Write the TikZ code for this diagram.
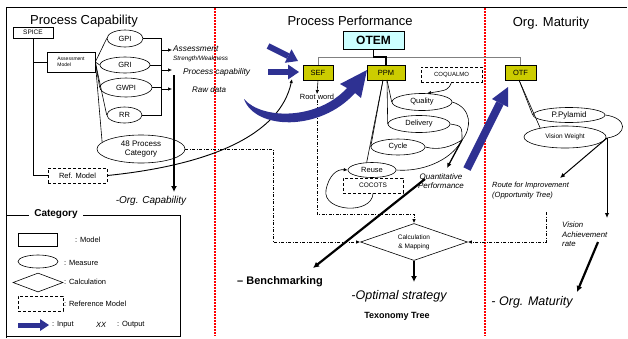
\documentclass[tikz,border=0pt]{standalone}
\usepackage{fontspec}
\setmainfont{Liberation Sans}
\usetikzlibrary{shapes.geometric,arrows.meta}
\definecolor{navyb}{RGB}{46,49,146}
\definecolor{oliveb}{RGB}{204,204,0}
\definecolor{lcyan}{RGB}{204,255,255}
\newcommand\fsz[2]{\fontsize{#1}{#2}\selectfont}
\begin{document}
\begin{tikzpicture}[x=1pt,y=-1pt,
  box/.style={draw, rectangle, inner sep=0pt, line width=0.6pt},
  ell/.style={draw, ellipse, inner sep=0pt, line width=0.6pt},
  ybox/.style={draw, fill=oliveb, inner sep=0pt, minimum height=15pt, line width=0.8pt, font=\fsz{7.5}{8}},
  dbox/.style={draw, rectangle, inner sep=0pt, line width=1pt, dash pattern=on 3pt off 2pt},
  ln/.style={line width=0.6pt},
  dd/.style={line width=0.9pt, dash pattern=on 3pt off 1.5pt on 1pt off 1.5pt, -{Latex[length=4pt,width=3.5pt]}},
  reddot/.style={red, line width=2.5pt, dash pattern=on 2pt off 1pt},
  tarr/.style={line width=0.6pt, -{Latex[length=4pt,width=3.5pt]}},
  karr/.style={line width=2.2pt, -{Latex[length=6pt,width=6pt]}},
  barrow/.style={navyb, line width=6pt, -{Triangle[length=11pt,width=15pt,line width=0pt]}},
  lbl/.style={inner sep=0pt},
]
\useasboundingbox (0,0) rectangle (628,338);
% frame
\coordinate (tl) at (6,7); \coordinate (tr) at (627,7); \coordinate (bl) at (6,338);
\draw[line width=0.8pt] (bl) -- (tl) -- (tr);
% red separators
\coordinate (r1t) at (215,8); \coordinate (r1b) at (215,336);
\coordinate (r2t) at (485,8); \coordinate (r2b) at (485,336);
\draw[reddot] (r1t) -- (r1b);
\draw[reddot] (r2t) -- (r2b);
% titles
\node[lbl, font=\fsz{13}{14}] (t1) at (84,21) {Process Capability};
\node[lbl, font=\fsz{13}{14}] (t2) at (350,21) {Process Performance};
\node[lbl, font=\fsz{13}{14}] (t3) at (551,23) {Org. Maturity};

% ---------- left section
\node[box, minimum width=40pt, minimum height=11pt, font=\fsz{6.5}{7}] (spice) at (33,32.5) {SPICE};
\node[box, minimum width=48pt, minimum height=20pt, align=left, font=\fsz{5}{6.5}] (am) at (71,62) {Assessment\\Model};
\node[ell, minimum width=36pt, minimum height=17pt, font=\fsz{7.5}{8}] (gpi) at (125,38.5) {GPI};
\node[ell, minimum width=50pt, minimum height=16pt, font=\fsz{7.5}{8}] (gri) at (125,65) {GRI};
\node[ell, minimum width=52pt, minimum height=19pt, font=\fsz{7.5}{8}] (gwpi) at (126,87.5) {GWPI};
\node[ell, minimum width=35pt, minimum height=16pt, font=\fsz{7.5}{8}] (rr) at (124.5,115) {RR};
\node[ell, minimum width=88pt, minimum height=28pt, align=center, font=\fsz{8}{9.5}] (cat) at (141,149) {48 Process\\Category};
\node[dbox, minimum width=59pt, minimum height=15pt, font=\fsz{7.5}{8}] (refm) at (77.5,175.5) {Ref. Model};

\draw[ln] (spice.south) |- (refm.west);
\draw[ln] (spice.south |- am.west) -- (am.west);
\draw[ln] (am.east) -- (gpi.west);
\draw[ln] (am.east) -- (gri.west);
\draw[ln] (am.east) -- (gwpi.west);
\draw[ln] (am.east) -- (rr.west);
\draw[ln] (am.east) -- (cat.170);
\coordinate (bt) at (161,38.5); \coordinate (bb) at (161,115);
\draw[ln] (gpi.east) -- (bt) -- (bb) -- (rr.east);
\draw[ln] (gri.east) -- (gri.east -| bb);
\draw[ln] (gwpi.east) -- (gwpi.east -| bb);
\coordinate (a1) at (172,50); \coordinate (a2) at (172,70); \coordinate (a3) at (172,89);
\draw[tarr] (a1 -| bb) -- (a1);
\draw[tarr] (a2 -| bb) -- (a2);
\draw[tarr] (a3 -| bb) -- (a3);
\node[lbl, anchor=west, font=\itshape\fsz{8.3}{9}] (tass) at (173,49) {Assessment};
\node[lbl, anchor=west, font=\itshape\fsz{6.3}{7}] (tsw) at (173,59) {Strength/Weakness};
\node[lbl, anchor=west, font=\itshape\fsz{8.3}{9}] (tpc) at (183,72) {Process capability};
\node[lbl, anchor=west, font=\itshape\fsz{8}{9}] (trd) at (192,90) {Raw data};

\coordinate (oc1) at (174,75); \coordinate (oc2) at (174,192);
\draw[karr] (oc1) -- (oc2);
\node[lbl, font=\itshape\fsz{10}{11}] (toc) at (151,201) {-Org. Capability};

% ---------- middle section
\node[draw, fill=lcyan, line width=0.8pt, minimum width=61pt, minimum height=18pt, inner sep=0pt, font=\bfseries\fsz{12}{12}] (otem) at (373.5,40) {OTEM};
\node[ybox, minimum width=30pt] (sef) at (318,72.5) {SEF};
\node[ybox, minimum width=38pt] (ppm) at (386,72.5) {PPM};
\node[ybox, minimum width=31pt] (otf) at (520.5,72.5) {OTF};
\coordinate (hl) at (318,57); \coordinate (hr) at (520.5,57);
\draw[gray, line width=0.9pt] (sef.north) -- (hl) -- (hr) -- (otf.north);
\draw[line width=1.2pt] (otem.south) -- (otem.south |- hl) -| (ppm.north);
\node[dbox, minimum width=61pt, minimum height=15pt, font=\fsz{6}{7}] (coq) at (451.5,74.5) {COQUALMO};
\node[lbl, font=\fsz{7.5}{8}] (root) at (317,97) {Root word};
\draw[tarr] (sef.south) -- (root.north);

\node[ell, minimum width=60pt, minimum height=17pt, font=\fsz{7.5}{8}] (qual) at (422,102) {Quality};
\node[ell, minimum width=62pt, minimum height=17pt, font=\fsz{7.5}{8}] (deliv) at (419,124) {Delivery};
\node[ell, minimum width=54pt, minimum height=16pt, font=\fsz{7.5}{8}] (cyc) at (398,147) {Cycle};
\node[ell, minimum width=48pt, minimum height=15pt, font=\fsz{7.5}{8}] (reuse) at (372,170) {Reuse};
\node[dbox, minimum width=60pt, minimum height=15pt, font=\fsz{6.5}{7}] (cocots) at (373,185.5) {COCOTS};

\coordinate (pb1) at (383,80); \coordinate (pb2) at (387,80);
\draw[ln] (pb2) -- (qual.west);
\draw[ln] (pb2) -- (deliv.west);
\draw[ln] (pb1) -- (cyc.west);
\draw[ln] (pb1) -- (reuse.125);
\coordinate (cv) at (462,140);
\draw[ln] (qual.east) .. controls (472,108) and (472,128) .. (cv);
\draw[ln] (deliv.east) .. controls (462,126) .. (cv);
\draw[ln] (cyc.east) .. controls (440,151) and (452,146) .. (cv);
\draw[ln] (reuse.east) .. controls (420,172) and (450,162) .. (cv);
\draw[tarr] (coq.south) .. controls (448,90) .. (qual.60);
\draw[tarr] (cocots.south) .. controls (372,215) and (322,212) .. (326,190) .. controls (329,175) and (337,169) .. (reuse.west);

\coordinate (qa) at (447,168);
\draw[line width=1.3pt, -{Latex[length=5pt,width=4.5pt]}] (cv) -- (qa);
\node[lbl, align=center, font=\itshape\fsz{8}{9}] (quant) at (441,181.5) {Quantitative\\Performance};

\node[draw, diamond, aspect=2.9, minimum width=107pt, minimum height=37pt, inner sep=0pt, line width=0.6pt, align=center, font=\fsz{6.5}{9}] (diam) at (414,242) {Calculation\\\& Mapping};
\coordinate (os) at (414,282);
\draw[karr] (diam.south) -- (os);
\node[lbl, font=\itshape\fsz{12.5}{13}] (topt) at (399,296) {-Optimal strategy};
\node[lbl, font=\bfseries\fsz{9}{10}] (ttax) at (397,316) {Texonomy Tree};

\coordinate (bm1) at (425,179); \coordinate (bm2) at (313,268);
\draw[karr] (bm1) -- (bm2);
\node[lbl, anchor=west, font=\bfseries\fsz{11}{12}] (tbm) at (237,282) {– Benchmarking};

% dash-dot connectors
\coordinate (dd1) at (273,149);
\draw[dd] (cat.east) -- (dd1) |- (diam.west);
\coordinate (rw1) at (317,214);
\draw[dd] (root.south) -- (rw1) -| (diam.north);
\coordinate (rd) at (546,212);
\draw[dd] (rd) |- (diam.east);

% ref model curve
\coordinate (sefin) at (292,79);
\draw[line width=0.9pt, -{Latex[length=4pt,width=3.5pt]}] (refm.east) .. controls (210,165) and (280,135) .. (sefin);

% blue input arrows
\coordinate (ba1s) at (268,46); \coordinate (ba1e) at (298,61);
\draw[barrow] (ba1s) -- (ba1e);
\coordinate (ba2s) at (268,72); \coordinate (ba2e) at (299,72);
\draw[barrow] (ba2s) -- (ba2e);
\fill[navyb] (244,99) .. controls (255,130) and (320,132) .. (355,93) -- (361,98) -- (367,70) -- (340,84) -- (347,88) .. controls (318,120) and (262,120) .. (244,99) -- cycle;
\coordinate (ba3s) at (467,169); \coordinate (ba3e) at (508,87);
\draw[navyb, line width=8pt, -{Triangle[length=18pt,width=18pt,line width=0pt]}] (ba3s) -- (ba3e);

% ---------- right section
\node[ell, minimum width=72pt, minimum height=15pt, font=\fsz{8}{9}] (ppy) at (569,115) {P.Pylamid};
\node[ell, minimum width=82pt, minimum height=22pt, font=\fsz{6.5}{7}] (vw) at (565,137) {Vision Weight};
\coordinate (ob) at (519,80);
\draw[ln] (ob) -- (ppy.west);
\draw[ln] (ob) -- (vw.160);
\coordinate (qv) at (607,138);
\draw[ln] (ppy.east) .. controls (628,118) and (628,135) .. (qv);
\coordinate (ra) at (560,178);
\draw[line width=1pt, -{Latex[length=5pt,width=4.5pt]}] (qv) -- (ra);
\coordinate (va) at (607,218);
\draw[line width=1pt, -{Latex[length=5pt,width=4.5pt]}] (qv) -- (va);
\node[lbl, anchor=west, align=left, font=\itshape\fsz{7.5}{10}] (troute) at (492,191) {Route for Improvement\\(Opportunity Tree)};
\node[lbl, anchor=north west, align=left, font=\itshape\fsz{7.8}{9.5}] (tvis) at (562,222) {Vision\\Achievement\\rate};
\coordinate (vm1) at (598,242); \coordinate (vm2) at (577,292);
\draw[karr] (vm1) -- (vm2);
\node[lbl, font=\itshape\fsz{12.5}{13}] (tmat) at (532,302) {- Org. Maturity};

% ---------- legend
\coordinate (lg1) at (6,215); \coordinate (lg2) at (180,215); \coordinate (lg3) at (180,336); \coordinate (lg4) at (6,336);
\draw[line width=0.8pt] (lg1) -- (lg2) -- (lg3) -- (lg4) -- cycle;
\node[fill=white, inner xsep=5pt, inner ysep=1pt, font=\bfseries\fsz{10}{11}] (tcat) at (56,214) {Category};
\node[box, minimum width=39pt, minimum height=13pt] (lrect) at (37.5,239.5) {};
\node[lbl, anchor=west, font=\fsz{7.5}{8}] (lt1) at (75,239.5) {: Model};
\node[ell, minimum width=40pt, minimum height=13pt] (lell) at (38,261.5) {};
\node[lbl, anchor=west, font=\fsz{7.5}{8}] (lt2) at (64,263) {: Measure};
\node[draw, diamond, aspect=2.6, minimum width=50pt, minimum height=19pt, inner sep=0pt, line width=0.6pt] (ldia) at (38,282.5) {};
\node[lbl, anchor=west, font=\fsz{7.5}{8}] (lt3) at (64,282) {: Calculation};
\node[dbox, minimum width=45pt, minimum height=15pt] (ldash) at (40.5,303.5) {};
\node[lbl, anchor=west, font=\fsz{7.5}{8}] (lt4) at (64,304) {: Reference Model};
\coordinate (la1) at (18,325); \coordinate (la2) at (49,325);
\draw[navyb, line width=5pt, -{Triangle[length=9pt,width=12pt,line width=0pt]}] (la1) -- (la2);
\node[lbl, anchor=west, font=\fsz{7.5}{8}] (lt5) at (52,325) {: Input};
\node[lbl, anchor=west, font=\itshape\fsz{7.5}{8}] (lt6) at (96,325) {XX};
\node[lbl, anchor=west, font=\fsz{7.5}{8}] (lt7) at (117,325) {: Output};
\end{tikzpicture}
\end{document}
